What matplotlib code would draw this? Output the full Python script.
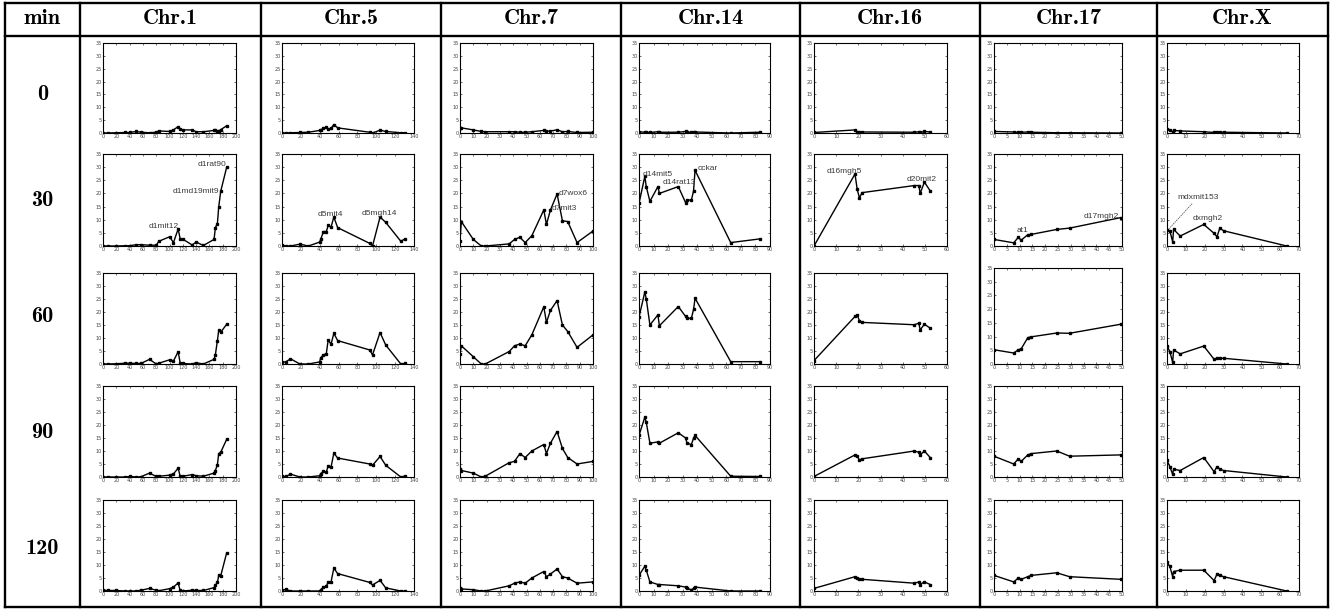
import matplotlib
matplotlib.use("Agg")
import matplotlib.pyplot as plt

W, H = 1333, 613

row_labels = ["0", "30", "60", "90", "120"]
chrom_labels = ["Chr.1", "Chr.5", "Chr.7", "Chr.14", "Chr.16", "Chr.17", "Chr.X"]

# marker positions (cM) per chromosome
chr1_pos = [0, 8, 20, 33, 40, 50, 57, 70, 80, 84, 100, 106, 113, 116, 120, 134, 140, 151, 167, 169, 172, 174, 177, 186]
chr5_pos = [0, 4, 9, 19, 28, 40, 41, 44, 47, 49, 52, 55, 59, 93, 96, 104, 110, 126, 130]
chr7_pos = [0, 0, 1, 10, 16, 19, 37, 41, 45, 49, 54, 63, 65, 68, 73, 77, 81, 88, 100]
chr14_pos = [0, 4, 5, 7.5, 13, 14, 27, 32, 33, 36, 37.5, 38.5, 63, 83]
chr16_pos = [0, 18.5, 19.5, 20.5, 21.7, 45.3, 47.3, 47.9, 49.8, 52.4]
chr17_pos = [0, 7.7, 9.5, 10.6, 13.2, 14.5, 24.5, 29.5, 49.5]
chrx_pos = [0, 1.5, 3, 3.5, 7, 19.5, 25, 26.5, 28, 30, 63.5]

# LOD scores, one list per time point (0, 30, 60, 90, 120 min)
chr1_lod = [
    [0, 0, 0.1, 0.2, 0.2, 0.6, 0.3, 0.1, 0.3, 0.8, 0.6, 1.2, 2.5, 1.5, 1.2, 1.2, 0.5, 0.5, 1.0, 1.2, 0.6, 0.7, 1.3, 2.8],
    [0, 0, 0, 0.1, 0.1, 0.5, 0.5, 0.3, 0.3, 1.8, 3.5, 1.3, 6.5, 2.8, 2.6, 0.4, 1.5, 0.2, 2.5, 7.0, 8.5, 14.8, 20.8, 30.0],
    [0, 0, 0.1, 0.3, 0.3, 0.2, 0.2, 1.8, 0, 0.3, 1.6, 1.2, 4.7, 0.5, 0.2, 0, 0.5, 0, 1.8, 3.6, 8.9, 12.9, 12.2, 15.3],
    [0, 0, 0, 0, 0.2, 0, 0.1, 1.5, 0.2, 0.3, 0.7, 1.2, 3.4, 0.3, 0.3, 0.9, 0.5, 0.3, 1.5, 2.5, 4.7, 9.0, 9.5, 14.5],
    [0.3, 0.2, 0.2, 0, 0, 0, 0.3, 1.0, 0.3, 0.1, 0.9, 1.5, 3.1, 0.2, 0, 0.3, 0.2, 0.2, 1.3, 2.2, 3.3, 6.0, 5.8, 14.7],
]
chr5_lod = [
    [0, 0, 0.1, 0.2, 0.3, 1.0, 1.2, 1.8, 2.2, 1.5, 1.8, 3.3, 2.0, 0.3, 0, 1.1, 0.6, 0.1, 0.1],
    [0.3, 0, 0, 0.7, 0, 1.5, 2.5, 5.5, 5.5, 7.8, 7.2, 11, 7.0, 1.0, 0, 11, 9, 1.8, 2.6],
    [0.8, 0.8, 2.0, 0, 0, 0.8, 2.4, 3.5, 4.0, 9.3, 7.6, 11.8, 9.0, 5.4, 3.5, 12.1, 7.3, 0, 0.2],
    [0.3, 0.2, 1.1, 0, 0, 0.5, 1.3, 2.2, 1.8, 4.4, 3.8, 9.2, 7.3, 5.0, 4.5, 7.9, 4.5, 0, 0.3],
    [0.3, 0.6, 0, 0, 0, 0, 0.5, 1.5, 1.8, 3.5, 3.5, 8.8, 6.7, 3.3, 2.3, 4.1, 1.2, 0, 0],
]
chr7_lod = [
    [2, 2, 2, 1.2, 0.6, 0.5, 0.5, 0.5, 0.3, 0.3, 0.5, 1, 0.6, 0.8, 1.2, 0.5, 0.6, 0.2, 0.3],
    [36, 2, 9.3, 2.5, 0, 0, 0.8, 2.5, 3.3, 1.3, 3.9, 13.7, 8.2, 13.7, 19.8, 9.6, 9.3, 1.3, 5.7],
    [36, 3.7, 7, 2.8, 0, 0, 4.8, 7, 7.7, 7, 11.2, 22, 16, 20.6, 24.4, 15, 12.5, 6.4, 11.2],
    [3, 3, 2.5, 1.5, 0, 0.3, 5.5, 6, 9, 7.5, 10, 12.5, 9, 13, 17.5, 11, 7.5, 5, 6],
    [1, 1, 0.8, 0.5, 0, 0, 2, 3, 3.5, 3, 5, 7.5, 5.5, 6.5, 8.5, 5.5, 5, 3, 3.5],
]
chr14_lod = [
    [0.5, 0.3, 0.3, 0.2, 0.5, 0.3, 0.3, 0.6, 0.4, 0.2, 0.5, 0.4, 0, 0.3],
    [16.2, 26.5, 22.5, 17, 22.6, 20, 22.6, 16.5, 17.5, 17.5, 21, 28.8, 1.3, 2.7],
    [18, 27.7, 25, 15, 18.9, 14.7, 22.1, 18.3, 17.6, 17.6, 21, 25.3, 0.9, 0.9],
    [16, 23, 21, 13, 13.5, 13, 17, 15, 13, 12.5, 15, 16, 0.3, 0.2],
    [6, 9.5, 8, 3.5, 2.5, 2.5, 2, 1.5, 1, 0.5, 1, 1.5, 0, 0],
]
chr16_lod = [
    [0.2, 1.2, 0.5, 0.4, 0.4, 0.3, 0.5, 0.2, 0.6, 0.4],
    [0, 27.4, 21.5, 18.3, 20.3, 23, 23, 20, 24.3, 21],
    [1.3, 18.3, 18.9, 16.6, 16, 15.1, 15.7, 13.1, 15.3, 13.8],
    [0.2, 8.5, 8, 6.5, 7, 10, 9.5, 8.5, 10, 7.5],
    [1, 5.5, 5, 4.5, 4.5, 3, 3.5, 2.5, 3.5, 2.5],
]
chr17_lod = [
    [0.6, 0.4, 0.2, 0.3, 0.4, 0.3, 0.1, 0.1, 0],
    [2.5, 1.2, 3.3, 2.2, 4.3, 4.4, 6.3, 6.8, 10.8],
    [5.2, 4, 5.2, 5.5, 9.6, 9.9, 11.3, 11.2, 14.5],
    [8, 5, 7, 6, 8.5, 9, 10, 8, 8.5],
    [6, 3.5, 5, 4.5, 5.5, 6, 7, 5.5, 4.5],
]
chrx_lod = [
    [1.5, 1.2, 0.5, 1, 0.8, 0.5, 0.2, 0.5, 0.3, 0.3, 0],
    [6.1, 5.8, 1.6, 6.3, 3.8, 8.2, 4.8, 3.5, 6.8, 5.8, 0],
    [6.9, 4.8, 0.6, 5.4, 3.9, 6.9, 1.8, 2.2, 2.2, 2.2, 0],
    [6.5, 4, 1, 3, 2.5, 7.5, 2, 4, 3, 2.5, 0],
    [11, 9.5, 5.5, 7.5, 8, 8, 4, 6.5, 6, 5.5, 0],
]

# marker names shown in the 30 min row: (chrom index, name, x, y)
marker_names = [
    (0, "d1rat90", 143, 29.5), (0, "d1md19mit9", 104, 19.5), (0, "d1mit12", 68, 6),
    (1, "d5mit4", 38, 10.8), (1, "d5mgh14", 84, 11),
    (2, "d7wox6", 74, 18.6), (2, "d7mit3", 69, 12.9),
    (3, "d14mit5", 2.7, 26), (3, "d14rat13", 16.5, 22.8), (3, "cckar", 40, 28),
    (4, "d16mgh5", 5.5, 27), (4, "d20mit2", 42, 24),
    (5, "at1", 9, 4.6), (5, "d17mgh2", 35, 10),
    (6, "dxmgh2", 13.8, 9.1),
]

positions = [chr1_pos, chr5_pos, chr7_pos, chr14_pos, chr16_pos, chr17_pos, chrx_pos]
lods = [chr1_lod, chr5_lod, chr7_lod, chr14_lod, chr16_lod, chr17_lod, chrx_lod]
x_max = [200, 140, 100, 90, 60, 50, 70]
x_step = [20, 20, 10, 10, 10, 5, 10]

# layout in pixels
col_lines = [5, 80, 261, 441, 621, 800, 980, 1157, 1328]
ax_left = [103, 282, 460, 639, 814, 994, 1167]
ax_right = [236, 414, 593, 770, 947, 1122, 1299]
ax_top = [43, 154, 273, 386, 500]
ax_bottom = [133, 246, 364, 477, 591]
row_centers = [94, 200, 317, 432, 548]
top_line, head_line, bottom_line = 3, 36, 607

fig = plt.figure(figsize=(W / 100, H / 100), dpi=100)
frame = fig.add_axes([0, 0, 1, 1])
frame.set_xlim(0, W)
frame.set_ylim(H, 0)
frame.axis("off")

lw_table = 1.7
for x in col_lines:
    frame.plot([x, x], [top_line, bottom_line], color="black", lw=lw_table, solid_capstyle="projecting")
for y in [top_line, head_line, bottom_line]:
    frame.plot([col_lines[0], col_lines[-1]], [y, y], color="black", lw=lw_table, solid_capstyle="projecting")

head_font = dict(family="cmb10", fontsize=16, ha="center", va="center")
frame.text((col_lines[0] + col_lines[1]) / 2, 19, "min", **head_font)
for i, name in enumerate(chrom_labels):
    frame.text((col_lines[i + 1] + col_lines[i + 2]) / 2, 19, name, **head_font)
for r, lab in enumerate(row_labels):
    frame.text((col_lines[0] + col_lines[1]) / 2, row_centers[r], lab, **head_font)

label_font = dict(fontsize=6, color="#3a3a3a", family="Liberation Sans", va="bottom")

for c in range(len(chrom_labels)):
    for r in range(len(row_labels)):
        top = ax_top[r]
        if c == 5 and r == 2:
            top = 268
        left = ax_left[c] / W
        width = (ax_right[c] - ax_left[c]) / W
        bottom = 1 - ax_bottom[r] / H
        height = (ax_bottom[r] - top) / H
        ax = fig.add_axes([left, bottom, width, height])
        ax.plot(positions[c], lods[c][r], color="black", lw=1.0,
                marker="s", markersize=1.6)
        ax.set_xlim(0, x_max[c])
        ax.set_ylim(0, 35)
        ax.set_xticks(range(0, x_max[c] + 1, x_step[c]))
        ax.set_yticks(range(0, 36, 5))
        ax.tick_params(direction="in", length=1.5, width=0.4, labelsize=3.5,
                       labelcolor="#444444", pad=0.8, top=True, right=True)
        for s in ax.spines.values():
            s.set_linewidth(0.8)
        if r == 1:
            for ci, name, tx, ty in marker_names:
                if ci == c:
                    ax.text(tx, ty, name, **label_font)
            if c == 6:
                ax.annotate("mdxmit153", xy=(1, 6.5), xytext=(5.3, 17.1),
                            arrowprops=dict(arrowstyle="-", linestyle=":", lw=0.6,
                                            color="#555555", shrinkA=0, shrinkB=0),
                            **label_font)

fig.savefig("out.png", dpi=100)
